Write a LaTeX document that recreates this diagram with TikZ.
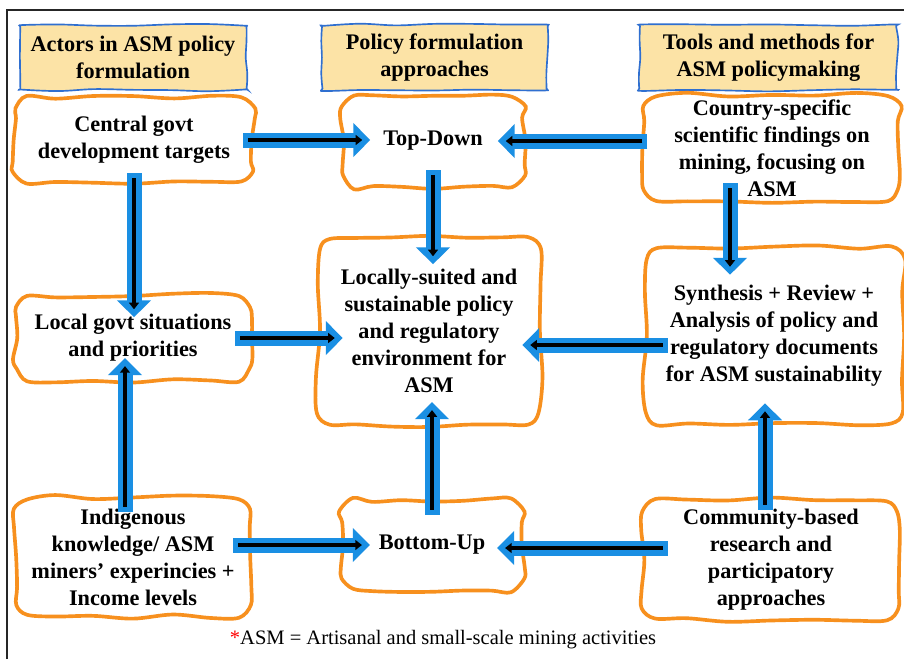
\documentclass[tikz,border=0pt]{standalone}
\usepackage{fontspec}
\setmainfont{Liberation Serif}
\usepackage{xcolor}
\usepackage{tikz}
\usetikzlibrary{arrows.meta, calc, backgrounds}
\definecolor{asmorange}{HTML}{F7901E}
\definecolor{asmblue}{HTML}{1A8FE3}
\definecolor{hdrblue}{HTML}{2F6FD0}
\definecolor{hdrfill}{HTML}{FCE3A6}

% blue block arrow with a black core: from, to, start overlap, end overlap
\newcommand{\flowarrow}[4]{%
    \draw[flow, shorten <=-#3, shorten >=-#4] #1 -- #2;
    \draw[core, shorten <=-#3+0.15cm, shorten >=-#4+0.24cm] #1 -- #2;
}

% hand-drawn outline behind a node: node, style, wobble, corner
\newcommand{\wobble}[4]{%
    \begin{pgfonlayer}{background}
    \draw[#2] let \p1=(#1.south west), \p2=(#1.north east) in
        plot[smooth cycle, tension=0.55] coordinates {
        ({\x1+#4}, {\y1+#3*rand})
        ({\x1+0.17*(\x2-\x1)}, {\y1+#3*rand}) ({\x1+0.33*(\x2-\x1)}, {\y1+#3*rand})
        ({\x1+0.5*(\x2-\x1)}, {\y1+#3*rand}) ({\x1+0.67*(\x2-\x1)}, {\y1+#3*rand})
        ({\x1+0.83*(\x2-\x1)}, {\y1+#3*rand})
        ({\x2-#4}, {\y1+#3*rand}) ({\x2+#3*rand}, {\y1+#4})
        ({\x2+#3*rand}, {\y1+0.25*(\y2-\y1)}) ({\x2+#3*rand}, {\y1+0.5*(\y2-\y1)})
        ({\x2+#3*rand}, {\y1+0.75*(\y2-\y1)})
        ({\x2+#3*rand}, {\y2-#4}) ({\x2-#4}, {\y2+#3*rand})
        ({\x1+0.83*(\x2-\x1)}, {\y2+#3*rand}) ({\x1+0.67*(\x2-\x1)}, {\y2+#3*rand})
        ({\x1+0.5*(\x2-\x1)}, {\y2+#3*rand}) ({\x1+0.33*(\x2-\x1)}, {\y2+#3*rand})
        ({\x1+0.17*(\x2-\x1)}, {\y2+#3*rand})
        ({\x1+#4}, {\y2+#3*rand}) ({\x1+#3*rand}, {\y2-#4})
        ({\x1+#3*rand}, {\y1+0.75*(\y2-\y1)}) ({\x1+#3*rand}, {\y1+0.5*(\y2-\y1)})
        ({\x1+#3*rand}, {\y1+0.25*(\y2-\y1)})
        ({\x1+#3*rand}, {\y1+#4})
        };
    \end{pgfonlayer}
}

\begin{document}
\begin{tikzpicture}[
    x=0.03cm, y=-0.03cm,
    category/.style={minimum height=1.95cm, align=center,
                     font=\bfseries\fontsize{19}{23}\selectfont},
    categoryline/.style={draw=hdrblue, line width=0.05cm, fill=hdrfill},
    block/.style={align=center, inner sep=0pt,
                  font=\bfseries\fontsize{19}{23}\selectfont},
    blockline/.style={draw=asmorange, line width=0.11cm, fill=white},
    flow/.style={draw=asmblue, line width=0.45cm, -{Triangle[length=0.51cm, width=0.99cm]}},
    core/.style={draw=black, line width=0.14cm, -{Triangle[length=0.2cm, width=0.3cm]}},
]
    \pgfmathsetseed{11}
    \useasboundingbox (0,0) rectangle (904,659);

    % Frame
    \draw[line width=0.05cm, black!85] (7,659) -- (7,10) -- (904,10);

    % Column headers
    \node[category, minimum width=6.78cm] (hactors) at (133,57.5) {Actors in ASM policy\\formulation};
    \node[category, minimum width=6.75cm] (happroach) at (434.5,57.5) {Policy formulation\\approaches};
    \node[category, minimum width=7.71cm] (htools) at (768.5,57.5) {Tools and methods for\\ASM policymaking};
    \foreach \h in {hactors, happroach, htools} {
        \wobble{\h}{categoryline}{1pt}{1.5pt}
    }

    % Actors
    \node[block, minimum width=7.14cm, minimum height=2.58cm] (A1) at (134,140) {Central govt\\development targets};
    \node[block, minimum width=7.05cm, minimum height=2.55cm] (A2) at (133,338) {Local govt situations\\and priorities};
    \node[block, minimum width=7.05cm, minimum height=3.57cm] (A3) at (133,557) {Indigenous\\knowledge/ ASM\\miners’ experincies +\\Income levels};

    % Approaches
    \node[block, minimum width=5.43cm, minimum height=2.76cm] (B1) at (433,141) {Top-Down};
    \node[block, minimum width=6.66cm, minimum height=5.61cm] (B2) at (429,331) {Locally-suited and\\sustainable policy\\and regulatory\\environment for\\ASM};
    \node[block, minimum width=5.43cm, minimum height=2.7cm] (B3) at (432,545) {Bottom-Up};

    % Tools and methods
    \node[block, minimum width=7.65cm, minimum height=3.21cm] (C1) at (772,148) {Country-specific\\scientific findings on\\mining, focusing on\\ASM};
    \node[block, minimum width=7.74cm, minimum height=5.28cm] (C2) at (774,336) {Synthesis + Review +\\Analysis of policy and\\regulatory documents\\for ASM sustainability};
    \node[block, minimum width=7.65cm, minimum height=3.6cm] (C3) at (771,560) {Community-based\\research and\\participatory\\approaches};

    \foreach \b in {A1, A2, A3, B1, B2, B3, C1, C2, C3} {
        \wobble{\b}{blockline}{2pt}{10pt}
    }

    % Arrows
    \flowarrow{(A1.east)}{(A1.east -| B1.west)}{0.3cm}{0.84cm}
    \flowarrow{(C1.west |- B1.east)}{(B1.east)}{0.09cm}{0.78cm}
    \flowarrow{(B1.south)}{(B1.south |- B2.north)}{0.51cm}{0.81cm}
    \flowarrow{(A1.south)}{(A1.south |- A2.north)}{0.3cm}{0.66cm}
    \flowarrow{($(C1.south)+(-42,0)$)}{($(C2.north)+(-44,0)$)}{0.56cm}{0.81cm}
    \flowarrow{(A2.east)}{(A2.east -| B2.west)}{0.47cm}{0.75cm}
    \flowarrow{($(C2.west)+(0,9)$)}{($(B2.east |- C2.west)+(0,9)$)}{0.69cm}{0.54cm}
    \flowarrow{($(A3.north)+(-8,0)$)}{($(A2.south)+(-8,0)$)}{0.44cm}{0.68cm}
    \flowarrow{(B3.north)}{(B3.north |- B2.south)}{0.45cm}{0.68cm}
    \flowarrow{($(C3.north)+(-6,0)$)}{($(C2.south)+(-9,0)$)}{0.3cm}{0.63cm}
    \flowarrow{($(A3.east)+(0,-12)$)}{(B3.west)}{0.53cm}{0.86cm}
    \flowarrow{($(C3.west)+(0,-12)$)}{($(B3.east)+(0,3)$)}{0.74cm}{0.77cm}

    % Footnote
    \node[font=\fontsize{17.5}{20}\selectfont] (note) at (443,640)
        {\textcolor{red}{*}ASM = Artisanal and small-scale mining activities};
\end{tikzpicture}
\end{document}
